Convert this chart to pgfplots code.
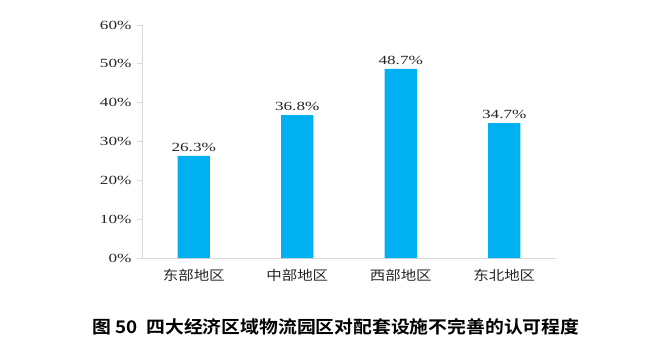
\documentclass[border=0pt]{standalone}
\usepackage{pgfplots}
\pgfplotsset{compat=1.18}
\usepackage{fontspec}
\setmainfont{Liberation Serif}
\newfontfamily\tnr[FakeStretch=1.38]{Liberation Serif}
\newfontfamily\cjk[FakeStretch=1.15]{Noto Sans CJK SC}
\newfontfamily\cjkb[FakeStretch=1.08]{Noto Sans CJK SC Bold}
\definecolor{barblue}{HTML}{00B0F0}
\definecolor{axgray}{HTML}{D9D9D9}
\begin{document}
\begin{tikzpicture}[x=1bp,y=1bp]
\path[use as bounding box,fill=white] (0,0) rectangle (660,352);
\begin{axis}[
  at={(142bp,94bp)}, anchor=south west,
  scale only axis, width=414bp, height=233bp,
  xmin=-0.5, xmax=3.5, ymin=0, ymax=60,
  axis lines*=left,
  axis line style={axgray, line width=0.8pt},
  ytick={0,10,...,60},
  yticklabel={\pgfmathprintnumber{\tick}\%},
  /pgf/number format/assume math mode=true,
  yticklabel style={font=\tnr\fontsize{12.5}{14}\selectfont, text=black!85, xshift=-2bp},
  ytick style={axgray, line width=0.8pt},
  tick align=outside,
  major tick length=5bp,
  xtick={0,1,2,3},
  xticklabels={{\cjk 东部地区},{\cjk 中部地区},{\cjk 西部地区},{\cjk 东北地区}},
  xticklabel style={font=\fontsize{13.5}{16}\selectfont, text=black!85, yshift=-3bp},
  x tick style={draw=none},
  extra x ticks={-0.5,0.5,1.5,2.5,3.5},
  extra x tick labels={},
  extra x tick style={tick style={axgray, line width=0.8pt, draw=axgray}, major tick length=5bp},
  ybar, bar width=0.31,
  nodes near coords={\pgfmathprintnumber[fixed,fixed zerofill,precision=1]{\pgfplotspointmeta}\%},
  nodes near coords style={font=\tnr\fontsize{12.5}{14}\selectfont, text=black!85, /pgf/number format/assume math mode=true, yshift=1bp},
  clip=false,
]
\addplot[fill=barblue, draw=none] coordinates {(0,26.3) (1,36.8) (2,48.7) (3,34.7)};
\end{axis}
\node[font=\cjkb\fontsize{17.5}{19}\selectfont] at (336,25) {图 50\ \ 四大经济区域物流园区对配套设施不完善的认可程度};
\end{tikzpicture}
\end{document}
